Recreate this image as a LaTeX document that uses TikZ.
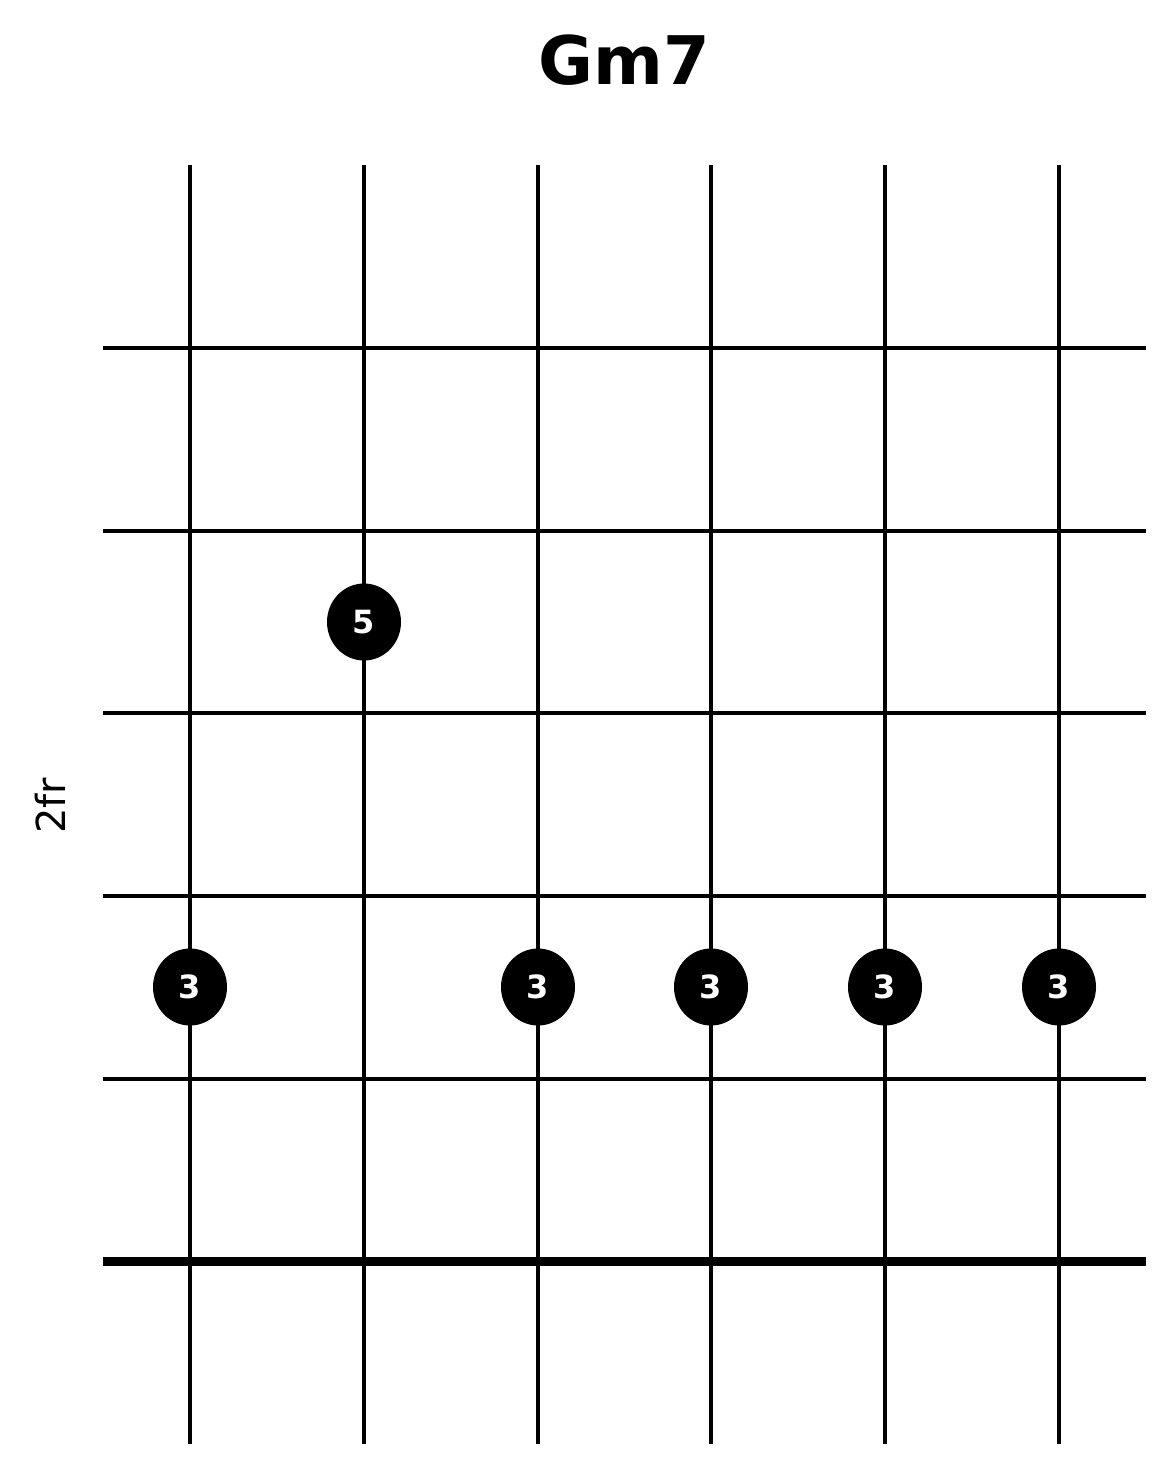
\documentclass[tikz,border=0pt]{standalone}
\usepackage{fontspec}
\setmainfont{DejaVu Sans}
\usetikzlibrary{shapes.geometric}
\begin{document}
\begin{tikzpicture}[x=1pt,y=-1pt,
  stringline/.style={line width=3.2pt,draw=black},
  fretline/.style={line width=3.2pt,draw=black},
  nutline/.style={line width=9pt,draw=black},
  fingerdot/.style={ellipse,fill=black,minimum width=74pt,minimum height=77pt,inner sep=0pt,text=white,font=\fontsize{32}{32}\selectfont\bfseries},
  titletext/.style={font=\fontsize{67}{67}\selectfont\bfseries},
  fretlabel/.style={font=\fontsize{40}{40}\selectfont,rotate=90}]
\useasboundingbox (0,0) rectangle (1175,1474);
\fill[white] (0,0) rectangle (1175,1474);
% strings
\foreach \i/\x in {1/190,2/364,3/538,4/711,5/885,6/1059}{
  \coordinate (st\i) at (\x,165);
  \coordinate (sb\i) at (\x,1444);
  \draw[stringline] (st\i) -- (sb\i);
}
% frets
\foreach \j/\y in {1/348,2/531,3/713,4/896,5/1079}{
  \coordinate (fl\j) at (103,\y);
  \coordinate (fr\j) at (1146,\y);
  \draw[fretline] (fl\j) -- (fr\j);
}
\coordinate (nl) at (103,1261);
\coordinate (nr) at (1146,1261);
\draw[nutline] (nl) -- (nr);
% dots
\node[fingerdot] (d2) at (364,622) {5};
\node[fingerdot] (d1) at (190,987) {3};
\node[fingerdot] (d3) at (538,987) {3};
\node[fingerdot] (d4) at (711,987) {3};
\node[fingerdot] (d5) at (885,987) {3};
\node[fingerdot] (d6) at (1059,987) {3};
% labels
\node[titletext] (title) at (624,60) {Gm7};
\node[fretlabel] (fr) at (50,806) {2fr};
\end{tikzpicture}
\end{document}
